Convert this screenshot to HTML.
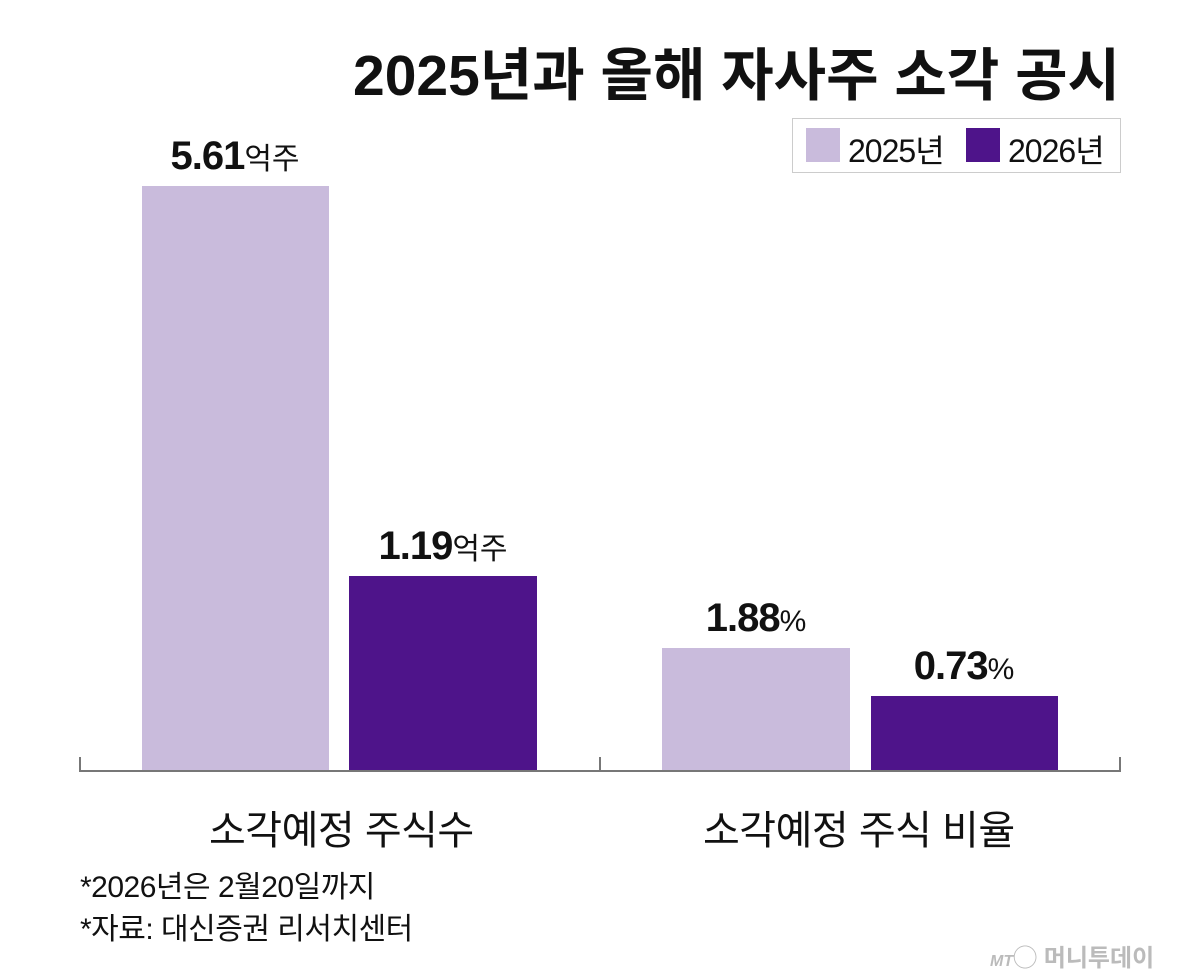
<!DOCTYPE html>
<html><head><meta charset="utf-8"><style>
body{margin:0;background:#fff;}
#c{position:relative;width:1200px;height:977px;overflow:hidden;font-family:"Liberation Sans","Noto Sans CJK KR",sans-serif;color:#111;}
.a{position:absolute;white-space:nowrap;}
.bar{position:absolute;}
.l{background:#c9bbdc;}
.d{background:#4e148a;}
.v{position:absolute;font-weight:bold;font-size:40px;letter-spacing:-1px;text-align:center;width:300px;}
.v span{font-weight:normal;font-size:30px;letter-spacing:0;}
</style></head><body><div id="c">
<div class="a" style="right:80px;top:30px;font-size:57px;font-weight:bold;letter-spacing:0px;">2025년과 올해 자사주 소각 공시</div>
<div class="a" style="left:792px;top:118px;width:327px;height:53px;border:1px solid #ccc;"></div>
<div class="a l" style="left:806px;top:128px;width:34px;height:34px;"></div>
<div class="a" style="left:848px;top:126px;font-size:32px;letter-spacing:-1px;">2025년</div>
<div class="a d" style="left:966px;top:128px;width:34px;height:34px;"></div>
<div class="a" style="left:1008px;top:126px;font-size:32px;letter-spacing:-1px;">2026년</div>
<div class="bar l" style="left:142px;top:186px;width:187px;height:585px;"></div>
<div class="bar d" style="left:349px;top:576px;width:188px;height:195px;"></div>
<div class="bar l" style="left:662px;top:648px;width:188px;height:123px;"></div>
<div class="bar d" style="left:871px;top:696px;width:187px;height:75px;"></div>
<div class="v" style="left:85px;top:134px;">5.61<span>억주</span></div>
<div class="v" style="left:293px;top:524px;">1.19<span>억주</span></div>
<div class="v" style="left:606px;top:596px;">1.88<span>%</span></div>
<div class="v" style="left:814px;top:644px;">0.73<span>%</span></div>
<div class="a" style="left:79px;top:770px;width:1042px;height:2px;background:#777;"></div>
<div class="a" style="left:79px;top:757px;width:2px;height:14px;background:#777;"></div>
<div class="a" style="left:599px;top:757px;width:2px;height:14px;background:#777;"></div>
<div class="a" style="left:1119px;top:757px;width:2px;height:14px;background:#777;"></div>
<div class="a" style="left:209px;top:798px;font-size:40px;letter-spacing:-0.5px;">소각예정 주식수</div>
<div class="a" style="left:703px;top:798px;font-size:40px;letter-spacing:-0.5px;">소각예정 주식 비율</div>
<div class="a" style="left:80px;top:862px;font-size:30px;letter-spacing:-0.5px;">*2026년은 2월20일까지</div>
<div class="a" style="left:80px;top:904px;font-size:30px;letter-spacing:-0.5px;">*자료: 대신증권 리서치센터</div>
<div class="a" style="left:990px;top:938px;font-size:24px;color:#bbb;font-weight:bold;"><i style="font-size:16px">MT</i>◯ 머니투데이</div>
</div></body></html>
